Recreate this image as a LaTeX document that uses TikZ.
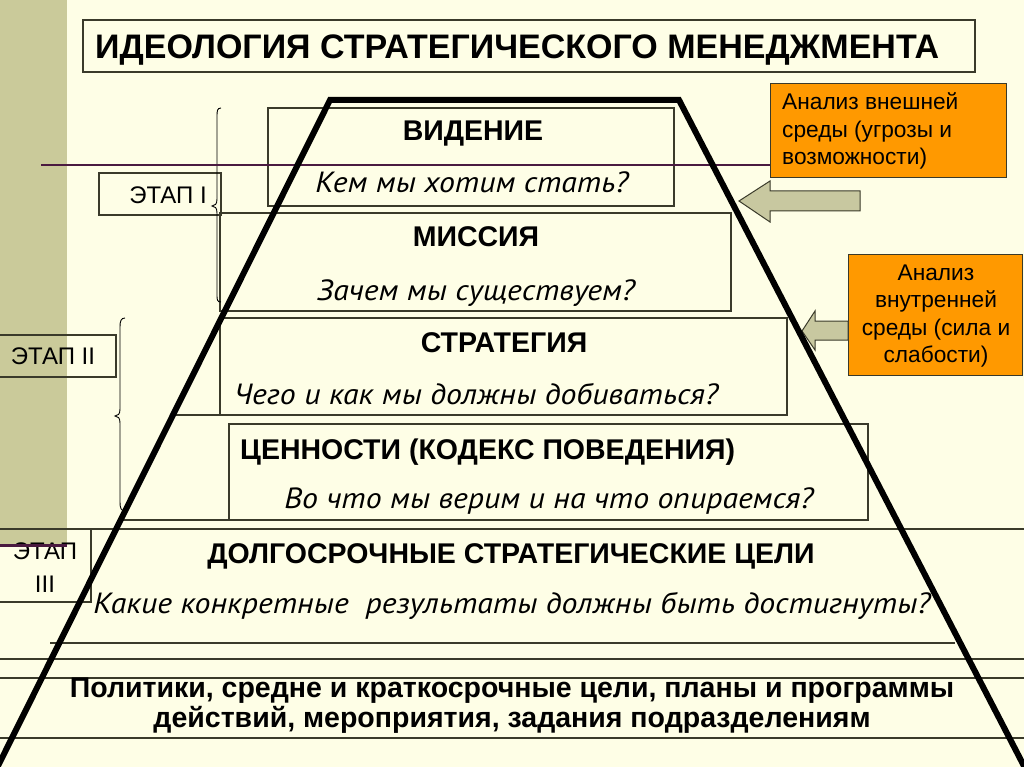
\documentclass[tikz,border=0pt]{standalone}
\usepackage{fontspec}
\setmainfont{Liberation Sans}
\newfontfamily\qfont[FakeStretch=1.09]{PT Sans}
\definecolor{bg}{HTML}{FEFEE6}
\definecolor{strip}{HTML}{CACA9A}
\definecolor{purp}{HTML}{4A1A40}
\definecolor{orng}{HTML}{FF9900}
\definecolor{arrf}{HTML}{C8C8A0}
\definecolor{boxc}{HTML}{3A3A2A}
\begin{document}
\begin{tikzpicture}[x=1pt,y=-1pt,
  frame/.style={draw=boxc, line width=1.1pt, inner sep=0pt, outer sep=0pt, anchor=north west},
  thin/.style={draw=boxc, line width=1.1pt},
  head/.style={font=\bfseries\fontsize{28.5}{32}\selectfont, inner sep=0pt, anchor=base},
  ques/.style={font=\qfont\itshape\fontsize{29.2}{34}\selectfont, inner sep=0pt, anchor=base},
  etap/.style={font=\fontsize{24}{33}\selectfont, inner sep=0pt, align=center},
  note/.style={font=\fontsize{22.7}{27.5}\selectfont, inner sep=0pt},
  orangebox/.style={draw=boxc, fill=orng, line width=1pt, inner sep=0pt, outer sep=0pt, anchor=north west},
  blockarrow/.style={draw=boxc, fill=arrf, line width=1pt, line join=miter},
  brace/.style={draw=black, line width=0.9pt},
  purpline/.style={draw=purp, line width=2pt},
  pyr/.style={draw=black, line width=6pt, line join=miter}
]
\useasboundingbox (0,0) rectangle (1024,767);
\fill[bg] (0,0) rectangle (1024,767);
\fill[strip] (0,0) rectangle (67,545);

% title
\node[frame, minimum width=892pt, minimum height=52pt] (titlebox) at (83,20) {};
\node[font=\bfseries\fontsize{34}{38}\selectfont, inner sep=0pt, anchor=base west] (title) at (95,59) {ИДЕОЛОГИЯ СТРАТЕГИЧЕСКОГО МЕНЕДЖМЕНТА};

% pyramid level frames
\node[frame, minimum width=406pt, minimum height=98pt] (visbox) at (268,108) {};
\node[frame, minimum width=511pt, minimum height=98pt] (misbox) at (220,213) {};
\node[frame, minimum width=567pt, minimum height=97pt] (strbox) at (220,318) {};
\node[frame, minimum width=639pt, minimum height=96pt] (valbox) at (229,424) {};

% long horizontal rules
\coordinate (r1a) at (173,415); \coordinate (r1b) at (787,415);
\coordinate (r2a) at (120,520); \coordinate (r2b) at (868,520);
\coordinate (r3a) at (0,529);   \coordinate (r3b) at (1024,529);
\coordinate (r4a) at (50,643);  \coordinate (r4b) at (955,643);
\coordinate (r5a) at (0,659);   \coordinate (r5b) at (1024,659);
\coordinate (r6a) at (0,678);   \coordinate (r6b) at (1024,678);
\coordinate (r7a) at (0,738);   \coordinate (r7b) at (1024,738);
\foreach \i in {1,...,7} {\draw[thin] (r\i a) -- (r\i b);}

% stage boxes
\node[frame, minimum width=122pt, minimum height=42pt] (e1box) at (99,173) {};
\node[etap] (e1) at (168,195) {ЭТАП I};
\node[frame, minimum width=118pt, minimum height=42pt] (e2box) at (-2,335) {};
\node[etap] (e2) at (53,356) {ЭТАП II};
\node[frame, minimum width=93pt, minimum height=73pt] (e3box) at (-2,529) {};
\node[etap] (e3) at (45,568) {ЭТАП\\III};

% braces
\draw[brace] (221,108) .. controls (217,108) and (217,111) .. (217,117) -- (217,199)
  .. controls (217,204) and (215,206) .. (212,206) .. controls (215,206) and (217,208) .. (217,213)
  -- (217,294) .. controls (217,300) and (217,302) .. (221,302);
\draw[brace] (125,318) .. controls (121,318) and (120,321) .. (120,327) -- (120,409)
  .. controls (120,414) and (118,416) .. (115,416) .. controls (118,416) and (120,418) .. (120,423)
  -- (120,502) .. controls (120,508) and (121,511) .. (125,511);

% texts
\node[head] (visT) at (473,141) {ВИДЕНИЕ};
\node[ques] (visQ) at (472,193) {Кем мы хотим стать?};
\node[head] (misT) at (476,246) {МИССИЯ};
\node[ques] (misQ) at (476,300) {Зачем мы существуем?};
\node[head] (strT) at (504,352) {СТРАТЕГИЯ};
\node[ques] (strQ) at (476,404) {Чего и как мы должны добиваться?};
\node[head, anchor=base west] (valT) at (240,459) {ЦЕННОСТИ (КОДЕКС ПОВЕДЕНИЯ)};
\node[ques] (valQ) at (549,508) {Во что мы верим и на что опираемся?};
\node[head] (goalT) at (511,563) {ДОЛГОСРОЧНЫЕ СТРАТЕГИЧЕСКИЕ ЦЕЛИ};
\node[ques] (goalQ) at (512,613) {Какие конкретные\ \ результаты должны быть достигнуты?};
\node[font=\bfseries\fontsize{28.5}{30}\selectfont, inner sep=0pt, align=center, anchor=base] (plan) at (512,727)
  {Политики, средне и краткосрочные цели, планы и программы\\действий, мероприятия, задания подразделениям};

% purple lines
\coordinate (p1a) at (41,165);
\coordinate (p2a) at (0,545); \coordinate (p2b) at (67,545);

% orange boxes
\node[orangebox, minimum width=236pt, minimum height=94pt] (ext) at (770,84) {};
\node[note, align=left, anchor=west] (extT) at (782,131) {Анализ внешней\\среды (угрозы и\\возможности)};
\node[orangebox, minimum width=174pt, minimum height=121pt] (int) at (848,254) {};
\node[note, align=center] (intT) at (936,316) {Анализ\\внутренней\\среды (сила и\\слабости)};

\draw[purpline] (p1a) -- (ext.west |- p1a);
\draw[purp, line width=3pt] (p2a) -- (p2b);

% block arrows
\draw[blockarrow] (739,201) -- (770,181) -- (770,191) -- (860,191) -- (860,211) -- (770,211) -- (770,222) -- cycle;
\draw[blockarrow] (802,331) -- (815,311) -- (815,321) -- (848,321) -- (848,340) -- (815,340) -- (815,350) -- cycle;

% pyramid
\coordinate (pbl) at (-3,768);
\coordinate (ptl) at (330,100);
\coordinate (ptr) at (679,100);
\coordinate (pbr) at (1025,768);
\draw[pyr] (pbl) -- (ptl) -- (ptr) -- (pbr);
\end{tikzpicture}
\end{document}
